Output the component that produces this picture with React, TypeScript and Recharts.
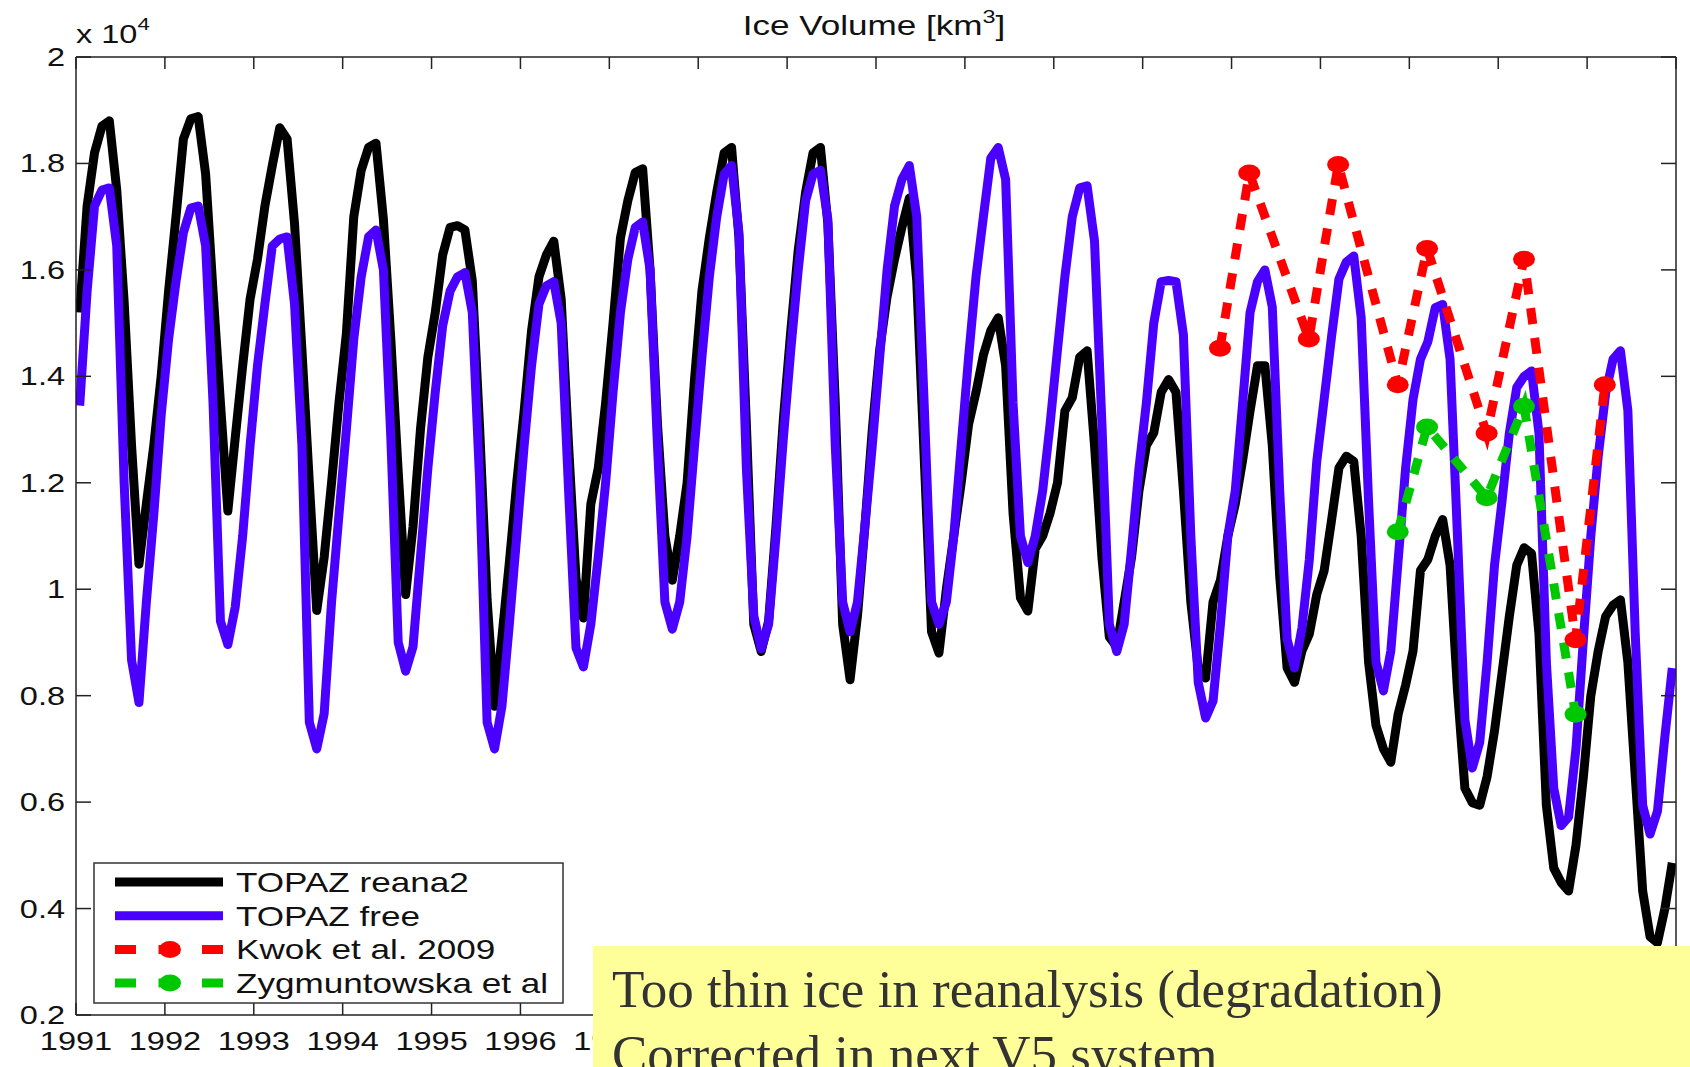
import { LineChart, Line, XAxis, YAxis, Legend } from 'recharts';

// Arctic ice volume, units of 10^4 km3, one value per month Jan 1991 .. Dec 2008
const startYear = 1991;

const reana2 = [
  1.52, 1.72, 1.82, 1.87, 1.88, 1.75, 1.54, 1.27, 1.047, 1.16, 1.27, 1.4, // 1991
  1.56, 1.7, 1.846, 1.884, 1.888, 1.78, 1.56, 1.35, 1.147, 1.285, 1.42, 1.545, // 1992
  1.62, 1.72, 1.796, 1.867, 1.846, 1.687, 1.45, 1.2, 0.96, 1.06, 1.2, 1.35, // 1993
  1.48, 1.7, 1.787, 1.83, 1.838, 1.695, 1.47, 1.22, 0.99, 1.118, 1.3, 1.436, // 1994
  1.52, 1.628, 1.68, 1.683, 1.675, 1.58, 1.3, 0.98, 0.78, 0.91, 1.05, 1.2, // 1995
  1.335, 1.486, 1.587, 1.628, 1.654, 1.545, 1.27, 1.02, 0.946, 1.16, 1.227, 1.35, // 1996
  1.5, 1.66, 1.73, 1.783, 1.79, 1.6, 1.31, 1.1, 1.017, 1.1, 1.2, 1.394, // 1997
  1.56, 1.66, 1.746, 1.82, 1.83, 1.66, 1.31, 0.934, 0.883, 0.94, 1.118, 1.32, // 1998
  1.486, 1.637, 1.746, 1.82, 1.83, 1.687, 1.35, 0.934, 0.83, 0.95, 1.118, 1.3, // 1999
  1.45, 1.55, 1.62, 1.68, 1.735, 1.58, 1.25, 0.92, 0.88, 1.0, 1.1, 1.2, // 2000
  1.31, 1.37, 1.44, 1.486, 1.51, 1.42, 1.143, 0.984, 0.959, 1.076, 1.1, 1.143, // 2001
  1.2, 1.335, 1.36, 1.436, 1.448, 1.27, 1.06, 0.91, 0.892, 0.976, 1.06, 1.185, // 2002
  1.27, 1.294, 1.37, 1.394, 1.37, 1.185, 0.976, 0.85, 0.833, 0.976, 1.017, 1.1, // 2003
  1.16, 1.243, 1.335, 1.42, 1.42, 1.27, 1.024, 0.852, 0.825, 0.884, 0.916, 0.99, // 2004
  1.035, 1.13, 1.228, 1.25, 1.24, 1.1, 0.863, 0.744, 0.7, 0.675, 0.766, 0.82, // 2005
  0.884, 1.035, 1.056, 1.1, 1.131, 1.045, 0.81, 0.626, 0.599, 0.594, 0.648, 0.734, // 2006
  0.841, 0.949, 1.045, 1.078, 1.067, 0.916, 0.594, 0.476, 0.449, 0.433, 0.519, 0.648, // 2007
  0.8, 0.884, 0.949, 0.97, 0.98, 0.863, 0.648, 0.433, 0.347, 0.336, 0.4, 0.486, // 2008
];

const free = [
  1.345, 1.56, 1.72, 1.75, 1.754, 1.645, 1.2, 0.867, 0.787, 0.976, 1.14, 1.327, // 1991
  1.47, 1.578, 1.67, 1.716, 1.72, 1.645, 1.35, 0.94, 0.896, 0.967, 1.1, 1.27, // 1992
  1.42, 1.536, 1.645, 1.658, 1.662, 1.536, 1.27, 0.75, 0.7, 0.766, 0.976, 1.14, // 1993
  1.3, 1.47, 1.587, 1.662, 1.675, 1.6, 1.285, 0.9, 0.846, 0.892, 1.06, 1.227, // 1994
  1.37, 1.495, 1.56, 1.587, 1.595, 1.52, 1.2, 0.75, 0.7, 0.78, 0.934, 1.1, // 1995
  1.27, 1.42, 1.536, 1.57, 1.578, 1.5, 1.185, 0.89, 0.854, 0.934, 1.06, 1.2, // 1996
  1.37, 1.52, 1.62, 1.68, 1.69, 1.6, 1.27, 0.976, 0.925, 0.976, 1.1, 1.27, // 1997
  1.436, 1.587, 1.7, 1.78, 1.796, 1.67, 1.227, 0.95, 0.888, 0.934, 1.1, 1.285, // 1998
  1.45, 1.6, 1.73, 1.78, 1.787, 1.695, 1.27, 0.976, 0.92, 0.976, 1.118, 1.27, // 1999
  1.436, 1.6, 1.72, 1.77, 1.796, 1.7, 1.35, 0.976, 0.934, 0.976, 1.1, 1.27, // 2000
  1.436, 1.587, 1.7, 1.81, 1.83, 1.77, 1.35, 1.1, 1.05, 1.1, 1.185, 1.31, // 2001
  1.45, 1.587, 1.7, 1.754, 1.758, 1.654, 1.31, 0.934, 0.883, 0.934, 1.076, 1.227, // 2002
  1.35, 1.5, 1.578, 1.58, 1.578, 1.478, 1.1, 0.825, 0.758, 0.79, 0.934, 1.1, // 2003
  1.185, 1.35, 1.52, 1.578, 1.6, 1.53, 1.185, 0.906, 0.852, 0.927, 1.056, 1.24, // 2004
  1.357, 1.475, 1.583, 1.615, 1.626, 1.51, 1.164, 0.863, 0.809, 0.884, 1.056, 1.228, // 2005
  1.357, 1.432, 1.465, 1.529, 1.535, 1.432, 1.1, 0.755, 0.664, 0.712, 0.863, 1.045, // 2006
  1.164, 1.293, 1.379, 1.4, 1.41, 1.293, 0.863, 0.626, 0.556, 0.572, 0.701, 0.906, // 2007
  1.1, 1.25, 1.368, 1.432, 1.448, 1.336, 0.916, 0.594, 0.54, 0.583, 0.723, 0.852, // 2008
];

// ICESat campaign estimates
const kwokTimes = [2003.87, 2004.2, 2004.87, 2005.2, 2005.87, 2006.2, 2006.87, 2007.29, 2007.87, 2008.2];
const kwokVolume = [1.453, 1.782, 1.47, 1.798, 1.384, 1.64, 1.293, 1.62, 0.905, 1.384];

const zygTimes = [2005.87, 2006.2, 2006.87, 2007.29, 2007.87];
const zygVolume = [1.108, 1.305, 1.172, 1.344, 0.765];

const yearTicks = [
  1991, 1992, 1993, 1994, 1995, 1996, 1997, 1998, 1999, 2000,
  2001, 2002, 2003, 2004, 2005, 2006, 2007, 2008, 2009,
];
const volumeTicks = [0.2, 0.4, 0.6, 0.8, 1, 1.2, 1.4, 1.6, 1.8, 2];

const series = [
  { key: 'reana2', name: 'TOPAZ reana2', color: '#000000', dashed: false },
  { key: 'free', name: 'TOPAZ free', color: '#4a00ff', dashed: false },
  { key: 'kwok', name: 'Kwok et al. 2009', color: '#ff0000', dashed: true },
  { key: 'zyg', name: 'Zygmuntowska et al', color: '#00c800', dashed: true },
];

const monthly = reana2.map((v, i) => ({
  t: startYear + (i + 0.5) / 12,
  reana2: v,
  free: free[i],
}));
const kwokData = kwokTimes.map((t, i) => ({ t, kwok: kwokVolume[i] }));
const zygData = zygTimes.map((t, i) => ({ t, zyg: zygVolume[i] }));

const W = 1690;
const H = 1067;
const SANS = '"Liberation Sans", Arial, Helvetica, sans-serif';
const SERIF = '"Liberation Serif", "Times New Roman", serif';
const STRETCH = 1.3;
const AXIS = '#222';
const LW = 9;

function XTick(props: any) {
  const { x, y, payload } = props;
  return (
    <g transform={`translate(${x},${y}) scale(${STRETCH},1)`}>
      <text x={0} y={0} textAnchor="middle" fontFamily={SANS} fontSize={25} fill="#111">
        {payload.value}
      </text>
    </g>
  );
}

function YTick(props: any) {
  const { x, y, payload } = props;
  const label = String(Number(Number(payload.value).toFixed(1)));
  return (
    <g transform={`translate(${x},${y}) scale(${STRETCH},1)`}>
      <text x={0} y={9} textAnchor="end" fontFamily={SANS} fontSize={25} fill="#111">
        {label}
      </text>
    </g>
  );
}

function NoLabel() {
  return <g />;
}

function Marker(props: any) {
  const { cx, cy, stroke, index, dataKey } = props;
  if (cx == null || cy == null) return null;
  return <ellipse key={`${dataKey}-${index}`} cx={cx} cy={cy} rx={11} ry={8.5} fill={stroke} />;
}

function LegendBox() {
  return (
    <svg width={472} height={143} style={{ display: 'block' }}>
      <rect x={1} y={1} width={469} height={140} fill="#fff" stroke="#333" strokeWidth={1.5} />
      {series.map((s, i) => {
        const cy = 20 + i * 33.7;
        return (
          <g key={s.key}>
            <line
              x1={22}
              x2={130}
              y1={cy}
              y2={cy}
              stroke={s.color}
              strokeWidth={LW}
              strokeDasharray={s.dashed ? '21 22.5' : undefined}
            />
            {s.dashed && <ellipse cx={77} cy={cy} rx={11} ry={8.5} fill={s.color} />}
            <g transform={`translate(143,${cy + 10}) scale(${STRETCH},1)`}>
              <text x={0} y={0} fontFamily={SANS} fontSize={27} fill="#111">
                {s.name}
              </text>
            </g>
          </g>
        );
      })}
    </svg>
  );
}

export default function App() {
  return (
    <div style={{ position: 'absolute', left: 0, top: 0, width: W, height: H, background: '#fff', overflow: 'hidden' }}>
      <LineChart width={W} height={H} data={monthly} margin={{ top: 56, right: 13, bottom: 0, left: 0 }}>
        <XAxis
          dataKey="t"
          type="number"
          domain={[1991, 2009]}
          ticks={yearTicks}
          allowDataOverflow
          height={52}
          tickSize={-12}
          tickMargin={47}
          tick={<XTick />}
          axisLine={{ stroke: AXIS, strokeWidth: 1.5 }}
          tickLine={{ stroke: AXIS, strokeWidth: 1.5 }}
          interval={0}
        />
        <XAxis
          xAxisId="top"
          orientation="top"
          dataKey="t"
          type="number"
          domain={[1991, 2009]}
          ticks={yearTicks}
          allowDataOverflow
          height={1}
          tickSize={-12}
          tick={<NoLabel />}
          axisLine={{ stroke: AXIS, strokeWidth: 1.5 }}
          tickLine={{ stroke: AXIS, strokeWidth: 1.5 }}
          interval={0}
        />
        <YAxis
          type="number"
          domain={[0.2, 2]}
          ticks={volumeTicks}
          allowDataOverflow
          width={76}
          tickSize={-15}
          tickMargin={26}
          tick={<YTick />}
          axisLine={{ stroke: AXIS, strokeWidth: 1.5 }}
          tickLine={{ stroke: AXIS, strokeWidth: 1.5 }}
          interval={0}
        />
        <YAxis
          yAxisId="right"
          orientation="right"
          type="number"
          domain={[0.2, 2]}
          ticks={volumeTicks}
          allowDataOverflow
          width={1}
          tickSize={-15}
          tick={<NoLabel />}
          axisLine={{ stroke: AXIS, strokeWidth: 1.5 }}
          tickLine={{ stroke: AXIS, strokeWidth: 1.5 }}
          interval={0}
        />
        <Line
          type="linear"
          dataKey="reana2"
          name="TOPAZ reana2"
          stroke="#000000"
          strokeWidth={LW}
          strokeLinejoin="round"
          dot={false}
          activeDot={false}
          isAnimationActive={false}
        />
        <Line
          type="linear"
          dataKey="free"
          name="TOPAZ free"
          stroke="#4a00ff"
          strokeWidth={LW}
          strokeLinejoin="round"
          dot={false}
          activeDot={false}
          isAnimationActive={false}
        />
        <Line
          type="linear"
          data={kwokData}
          dataKey="kwok"
          name="Kwok et al. 2009"
          stroke="#ff0000"
          strokeWidth={LW}
          strokeDasharray="16 14"
          dot={<Marker />}
          activeDot={false}
          isAnimationActive={false}
        />
        <Line
          type="linear"
          data={zygData}
          dataKey="zyg"
          name="Zygmuntowska et al"
          stroke="#00c800"
          strokeWidth={LW}
          strokeDasharray="16 14"
          dot={<Marker />}
          activeDot={false}
          isAnimationActive={false}
        />
        <Legend
          layout="horizontal"
          verticalAlign="middle"
          align="center"
          content={<LegendBox />}
          wrapperStyle={{ position: 'absolute', left: 93, top: 862, width: 472, height: 143 }}
        />
      </LineChart>

      <svg
        width={W}
        height={H}
        style={{ position: 'absolute', left: 0, top: 0, pointerEvents: 'none' }}
      >
        <g transform={`translate(874,35) scale(${STRETCH},1)`}>
          <text x={0} y={0} textAnchor="middle" fontFamily={SANS} fontSize={27} fill="#111">
            Ice Volume [km
            <tspan fontSize={18} dy={-12}>3</tspan>
            <tspan fontSize={27} dy={12}>]</tspan>
          </text>
        </g>
        <g transform={`translate(76,43) scale(${STRETCH},1)`}>
          <text x={0} y={0} fontFamily={SANS} fontSize={25} fill="#111">
            x 10
            <tspan fontSize={17} dy={-13}>4</tspan>
          </text>
        </g>
        <rect x={593} y={946} width={W - 593} height={H - 946} fill="#ffff99" />
        <text x={612} y={1007} fontFamily={SERIF} fontSize={53} fill="#333">
          Too thin ice in reanalysis (degradation)
        </text>
        <text x={612} y={1072} fontFamily={SERIF} fontSize={53} fill="#333">
          Corrected in next V5 system
        </text>
      </svg>
    </div>
  );
}
